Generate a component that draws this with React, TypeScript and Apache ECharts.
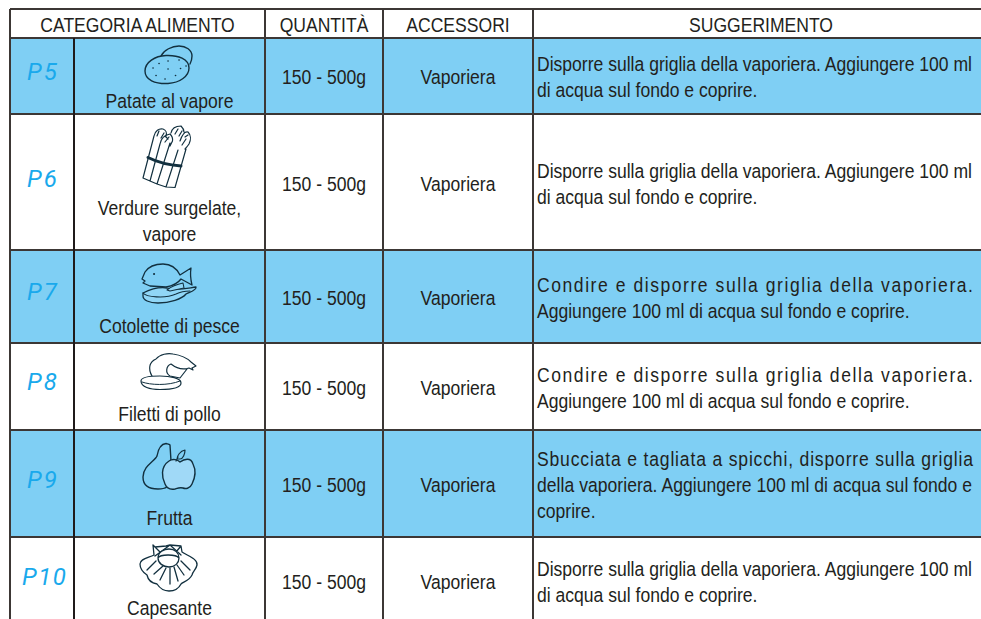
import React, { useEffect, useRef } from "react";
import * as echarts from "echarts";

const headers = ["CATEGORIA ALIMENTO", "QUANTITÀ", "ACCESSORI", "SUGGERIMENTO"];
const codes = ["P5", "P6", "P7", "P8", "P9", "P10"];
const foods = [
  ["Patate al vapore"],
  ["Verdure surgelate,", "vapore"],
  ["Cotolette di pesce"],
  ["Filetti di pollo"],
  ["Frutta"],
  ["Capesante"],
];
const quantities = ["150 - 500g", "150 - 500g", "150 - 500g", "150 - 500g", "150 - 500g", "150 - 500g"];
const accessories = ["Vaporiera", "Vaporiera", "Vaporiera", "Vaporiera", "Vaporiera", "Vaporiera"];
const tips = [
  ["Disporre sulla griglia della vaporiera. Aggiungere 100 ml", "di acqua sul fondo e coprire."],
  ["Disporre sulla griglia della vaporiera. Aggiungere 100 ml", "di acqua sul fondo e coprire."],
  ["Condire e disporre sulla griglia della vaporiera.", "Aggiungere 100 ml di acqua sul fondo e coprire."],
  ["Condire e disporre sulla griglia della vaporiera.", "Aggiungere 100 ml di acqua sul fondo e coprire."],
  ["Sbucciata e tagliata a spicchi, disporre sulla griglia", "della vaporiera. Aggiungere 100 ml di acqua sul fondo e", "coprire."],
  ["Disporre sulla griglia della vaporiera. Aggiungere 100 ml", "di acqua sul fondo e coprire."],
];

// layout
const colX = [10, 74, 265, 383, 533];
const rowY = [9, 38, 114, 250, 343, 430, 537, 640];
const tipTop = [64, 171, 285, 375, 459, 569];
const foodTop = [101, 208, 326, 414, 518, 608.5];
const midY = [77, 184, 298, 388, 485, 582];
const ledY = [72, 179, 292, 382, 480, 577];
const ledX = [27, 27, 27, 27, 27, 22];
const ledGap = [2, 2, 2, 2, 2, 1.5];
const W = 981;
const BLUE = "#7fcff4";
const LINE = "#3c3735";
const INK = "#231f20";
const ICON = "#12303f";
const FONT = "Liberation Sans";
const SIZE = 19.5;

const icons: Record<string, string> = {
  potatoBack:
    "M161 56 C164 50 172 46 179 46 C186 46 192 50 192 56 C192 60 191 62 190 64",
  potatoFront:
    "M145 71 C145 62 155 56 166 55.5 C178 55 189 59 189 68 C189 76 180 83 168 83.5 C155 84 145 80 145 71 Z",
  potatoDots:
    "M159 63.5h.1M168 61h.1M179 60h.1M153 68h.1M168 69h.1M180.500 68.500h.1M156 75.500h.1M165 79h.1M175.500 75.500h.1M186 66h.1",
  asparagus:
    "M143 178 L154 136 M150 181 L143 178 M150 181 L160 144 M150 181 L157 184 M157 184 L170 143 M157 184 L166 187 M166 187 L178 150 M166 187 L175 187.500 L186 149" +
    " M154 136 C155 131 159 128 163 129 C166 130 167 133 166 136" +
    " M160 144 C161 138 165 135 170 134 C172 136 173 138 172.500 141 L170 146" +
    " M171 133 C172 128 176 126 181 126 C183 128 184 130 184 132" +
    " M180 141 C182 135 185 131 188 132 C191 135 191 140 189 144 C187 147 186 148 185 149" +
    " M157 136 L159 131 M161 138 L164 133 M165 142 L169 137 M168 139 L165 136 M175 134 L178 129 M179 136 L182 131 M182 145 L186 139 M185 137 L188 135",
  band: "M148 157.500 C155 161 168 165 181 166",
  fishBody:
    "M145 272 C149 266 156 264 163 264 C171 264 177 269 180 275 L191 268 C190 274 191 281 192 285 L181 279 C178 283 172 286 166 287 L150 286 L143 283 L145 281 L142 279 Z",
  fishFin: "M167 290 C172 286 178 284 183 283 L184 288 L170 291 Z",
  fishSteak:
    "M143 293 C151 289 160 287 167 288 C176 291 188 288 196 287 C197 290 190 292 186 294 C182 299 170 303 158 303 C149 303 143 300 143 296 Z",
  fishEdge: "M143 293 C146 297 165 299 176 294 C180 292 186 291 190 291",
  fishEye: "M154 274h.1",
  chicken:
    "M152 376 C148 369 149 362 156 359 C160 354 168 353 173 354 C180 355 187 358 191 362 L196 366 L192 368 L193 370 L189 368 C183 370 176 368 171 364 C166 366 165 373 170 376 L180 378 L187 369",
  chickenSteak:
    "M141 381 C141 377 152 376 160 376 C170 376 181 378 181 383 C181 388 170 389.500 160 389.500 C150 389.500 141 387 141 381 Z",
  chickenEdge: "M142 382 C150 385 168 386 180 381",
  pear:
    "M170 445 C169 444 167 444 166 443.500 C161 444 158 450 157 456 C155 461 143 466 143 477 C143 486 150 489 158 489 C161 489 164 489 167 487 M170 445 L171 461",
  apple:
    "M169 461 C173 458 178 460 180 462 C184 459 191 457 193 464 C196 470 195 478 192 484 C190 489 185 489 183 488 C180 487 178 488 175 489 C170 490 167 489 165 484 C162 478 160 467 169 461 Z",
  leaf: "M177 459 C177 456 180 451 185 450 C185 454 183 459 180 459 Z M176 461 L178 457",
  shell:
    "M153 545 L155 547 L166 546 L170 545 L181 546 L182 552 C188 556 198 559 197 565 C196 570 193 571 192 575 C189 581 183 582 181 584 C178 590 172 591 169 591 C163 591 159 587 157 584 C151 583 148 580 147 575 C144 573 140 569 140 564 C140 559 148 558 154 555 L153 545 Z" +
    " M155 556 L166 548 L170 545 L181 555 M155 547 L160 552 M181 546 L176 552",
  shellInner:
    "M158 558 C158 552 164 549 169 549 C175 549 179 553 179 558 C179 563 175 567 169 567 C163 567 158 563 158 558 Z M158 558 C160 554 176 554 179 558",
  shellRays:
    "M163 566 L154 574 M156 561 L147 570 M166 568 L160 580 M170 568 L170 584 M174 567 L178 581 M177 565 L184 575 M181 561 L190 570",
};

const iconStyles: [string, string, number][] = [
  ["potatoBack", "none", 1.4],
  ["potatoFront", BLUE, 1.4],
  ["potatoDots", "none", 1.6],
  ["asparagus", "none", 1.2],
  ["band", "none", 3],
  ["fishBody", BLUE, 1.3],
  ["fishSteak", "#90d6f6", 1.3],
  ["fishEdge", "none", 1.1],
  ["fishFin", "#90d6f6", 1.1],
  ["fishEye", "none", 2],
  ["chicken", "none", 1.2],
  ["chickenSteak", "#ffffff", 1.2],
  ["chickenEdge", "none", 1],
  ["pear", "none", 1.4],
  ["apple", "#a0d9f7", 1.4],
  ["leaf", "none", 1.2],
  ["shell", "#ffffff", 1.3],
  ["shellRays", "none", 1.3],
  ["shellInner", "#ffffff", 1.3],
];

let registered = false;
function registerIcons() {
  if (registered) return;
  registered = true;
  Object.keys(icons).forEach((k) => {
    echarts.graphic.registerShape("icon_" + k, echarts.graphic.extendPath(icons[k], {}) as any);
  });
}

function App() {
  const ref = useRef<HTMLDivElement>(null);
  useEffect(() => {
    if (!ref.current) return;
    document.body.style.margin = "0";
    registerIcons();
    const ctx = document.createElement("canvas").getContext("2d")!;
    ctx.font = `${SIZE}px "${FONT}"`;
    const TIP_W = 436;
    const K = TIP_W / ctx.measureText(tips[0][0]).width;

    const text = (t: string, x: number, y: number, align: string, scaleX = K, extra: any = {}) => ({
      type: "text",
      x,
      y,
      scaleX,
      z: 5,
      style: { text: t, fontFamily: FONT, fontSize: SIZE, fill: INK, align, verticalAlign: "middle", ...extra },
    });

    const els: any[] = [];
    codes.forEach((_, i) => {
      if (i % 2 === 0)
        els.push({
          type: "rect",
          shape: { x: colX[0], y: rowY[i + 1], width: W - colX[0], height: rowY[i + 2] - rowY[i + 1] },
          style: { fill: BLUE },
        });
    });
    rowY.slice(0, 7).forEach((y) =>
      els.push({
        type: "line",
        z: 3,
        shape: { x1: colX[0], y1: y, x2: W, y2: y },
        style: { stroke: LINE, lineWidth: 2 },
      })
    );
    colX.forEach((x, i) =>
      els.push({
        type: "line",
        z: 3,
        shape: { x1: x, y1: i === 1 ? rowY[1] : rowY[0], x2: x, y2: 619 },
        style: { stroke: i === 1 ? "#1f1a1a" : LINE, lineWidth: 2 },
      })
    );

    const headMid = [137.5, 324, 458, 761];
    headers.forEach((h, i) => els.push(text(h, headMid[i], 25, "center")));

    const spacing = new Map<string, number>();
    codes.forEach((c, i) => {
      spacing.set(c, ledGap[i]);
      els.push(
        text(c, ledX[i], ledY[i], "left", 1, {
          fontFamily: "Roboto",
          fontStyle: "italic",
          fontSize: 24,
          fill: "#19a9ec",
        })
      );
      foods[i].forEach((l, j) => els.push(text(l, 169.5, foodTop[i] + j * 26, "center")));
      els.push(text(quantities[i], 324, midY[i], "center"));
      els.push(text(accessories[i], 458, midY[i], "center"));
      tips[i].forEach((l, j) => {
        if (j < tips[i].length - 1) {
          const natural = ctx.measureText(l).width;
          spacing.set(l, (TIP_W / K - natural) / (l.length - 1));
        }
        els.push(text(l, 537, tipTop[i] + j * 26, "left", K));
      });
    });

    iconStyles.forEach(([k, fill, lw]) =>
      els.push({
        type: "icon_" + k,
        z: 4,
        style: { fill, stroke: ICON, lineWidth: lw, lineCap: "round", lineJoin: "round" },
      })
    );

    const chart = echarts.init(ref.current, undefined, { renderer: "svg" });
    chart.setOption({ animation: false, backgroundColor: "#ffffff", graphic: { elements: els } });
    chart.getDom().querySelectorAll("text").forEach((node) => {
      const gap = spacing.get(node.textContent || "");
      if (gap) node.setAttribute("letter-spacing", String(gap));
    });
    return () => chart.dispose();
  }, []);
  return <div ref={ref} style={{ width: 981, height: 619 }} />;
}

export default App;
